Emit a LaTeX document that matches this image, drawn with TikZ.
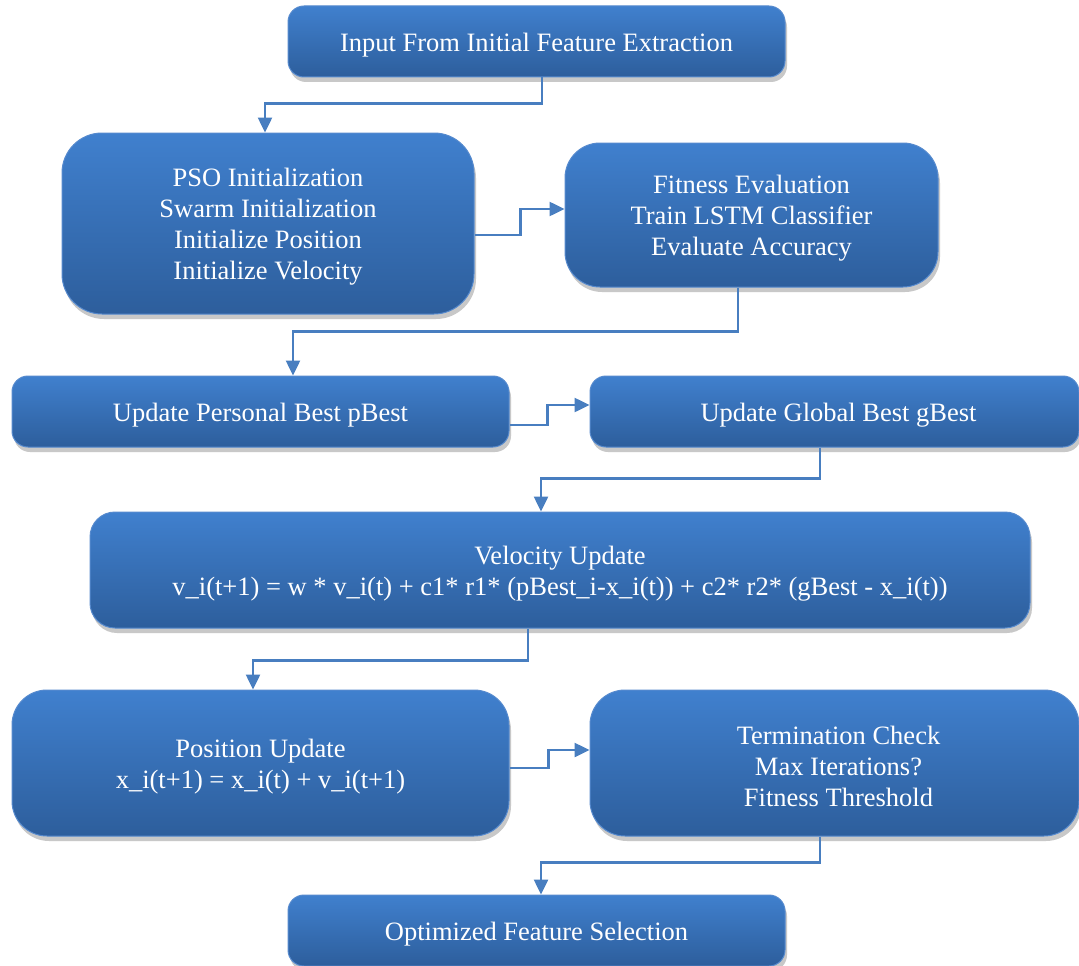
\documentclass[tikz,border=0pt]{standalone}
\usepackage{fontspec}
\setmainfont{Liberation Serif}
\usetikzlibrary{arrows.meta,shadows,calc}
\definecolor{boxtop}{RGB}{64,128,206}
\definecolor{boxbot}{RGB}{45,94,156}
\definecolor{boxline}{RGB}{86,138,206}
\definecolor{connc}{RGB}{72,126,192}
\tikzset{
  box/.style={rectangle, rounded corners=#1, top color=boxtop, bottom color=boxbot,
    draw=boxline, line width=1pt, inner sep=0pt,
    drop shadow={shadow xshift=2pt, shadow yshift=-5pt, opacity=0.3, fill=black!70}},
  boxtext/.style={text=white, align=center, inner sep=0pt,
    font=\fontsize{26.5}{31}\selectfont},
  conn/.style={draw=connc, line width=2.5pt, -{Triangle[length=15pt,width=14pt]}}
}
\begin{document}
\begin{tikzpicture}[x=1pt,y=-1pt]
\path[use as bounding box] (0,0) rectangle (1079,966);
\clip (0,0) rectangle (1079,966);
\fill[white] (0,0) rectangle (1079,966);

\node[box=16pt, minimum width=497pt, minimum height=71pt] (in) at (536.5,41.5) {};
\node[box=40pt, minimum width=412pt, minimum height=181pt] (pso) at (268,223.5) {};
\node[box=35pt, minimum width=373pt, minimum height=144pt] (fit) at (751.5,215) {};
\node[box=16pt, minimum width=497pt, minimum height=71pt] (pb) at (260.5,411.5) {};
\node[box=16pt, minimum width=489pt, minimum height=71pt] (gb) at (834.5,411.5) {};
\node[box=25pt, minimum width=940pt, minimum height=116pt] (vel) at (560,570) {};
\node[box=35pt, minimum width=497pt, minimum height=146pt] (pos) at (260.5,763) {};
\node[box=35pt, minimum width=489pt, minimum height=146pt] (term) at (834.5,763) {};
\node[box=16pt, minimum width=497pt, minimum height=71pt] (opt) at (536.5,930.5) {};

\node[boxtext] (in-t) at ($(in)+(0,4)$) {Input From Initial Feature Extraction};
\node[boxtext] (pso-t) at ($(pso)+(0,3.5)$) {PSO Initialization\\Swarm Initialization\\Initialize Position\\Initialize Velocity};
\node[boxtext] (fit-t) at ($(fit)+(0,3.5)$) {Fitness Evaluation\\Train LSTM Classifier\\Evaluate Accuracy};
\node[boxtext] (pb-t) at ($(pb)+(0,4)$) {Update Personal Best pBest};
\node[boxtext] (gb-t) at ($(gb)+(4,4)$) {Update Global Best gBest};
\node[boxtext] (vel-t) at ($(vel)+(0,4)$) {Velocity Update\\v\_i(t+1) = w * v\_i(t) + c1* r1* (pBest\_i-x\_i(t)) + c2* r2* (gBest - x\_i(t))};
\node[boxtext] (pos-t) at ($(pos)+(0,4)$) {Position Update\\x\_i(t+1) = x\_i(t) + v\_i(t+1)};
\node[boxtext] (term-t) at ($(term)+(4,3.5)$) {Termination Check\\Max Iterations?\\Fitness Threshold};
\node[boxtext] (opt-t) at ($(opt)+(0,4)$) {Optimized Feature Selection};

\draw[conn] ($(in.south)+(5.5,0)$) -- ++(0,26) -| ($(pso.north)+(-3,0)$);
\draw[conn] ($(pso.east)+(0,11.5)$) -- ++(46,0) |- ($(fit.west)+(0,-6)$);
\draw[conn] ($(fit.south)+(-13.5,0)$) -- ++(0,44) -| ($(pb.north)+(32.5,0)$);
\draw[conn] ($(pb.east)+(0,13.5)$) -- ++(38,0) |- ($(gb.west)+(0,-6.5)$);
\draw[conn] ($(gb.south)+(-14.5,0)$) -- ++(0,31) -| ($(vel.north)+(-19,0)$);
\draw[conn] ($(vel.south)+(-32,0)$) -- ++(0,32) -| ($(pos.north)+(-7.5,0)$);
\draw[conn] ($(pos.east)+(0,5)$) -- ++(39,0) |- ($(term.west)+(0,-13)$);
\draw[conn] ($(term.south)+(-14.5,0)$) -- ++(0,26) -| ($(opt.north)+(4.5,0)$);
\end{tikzpicture}
\end{document}
